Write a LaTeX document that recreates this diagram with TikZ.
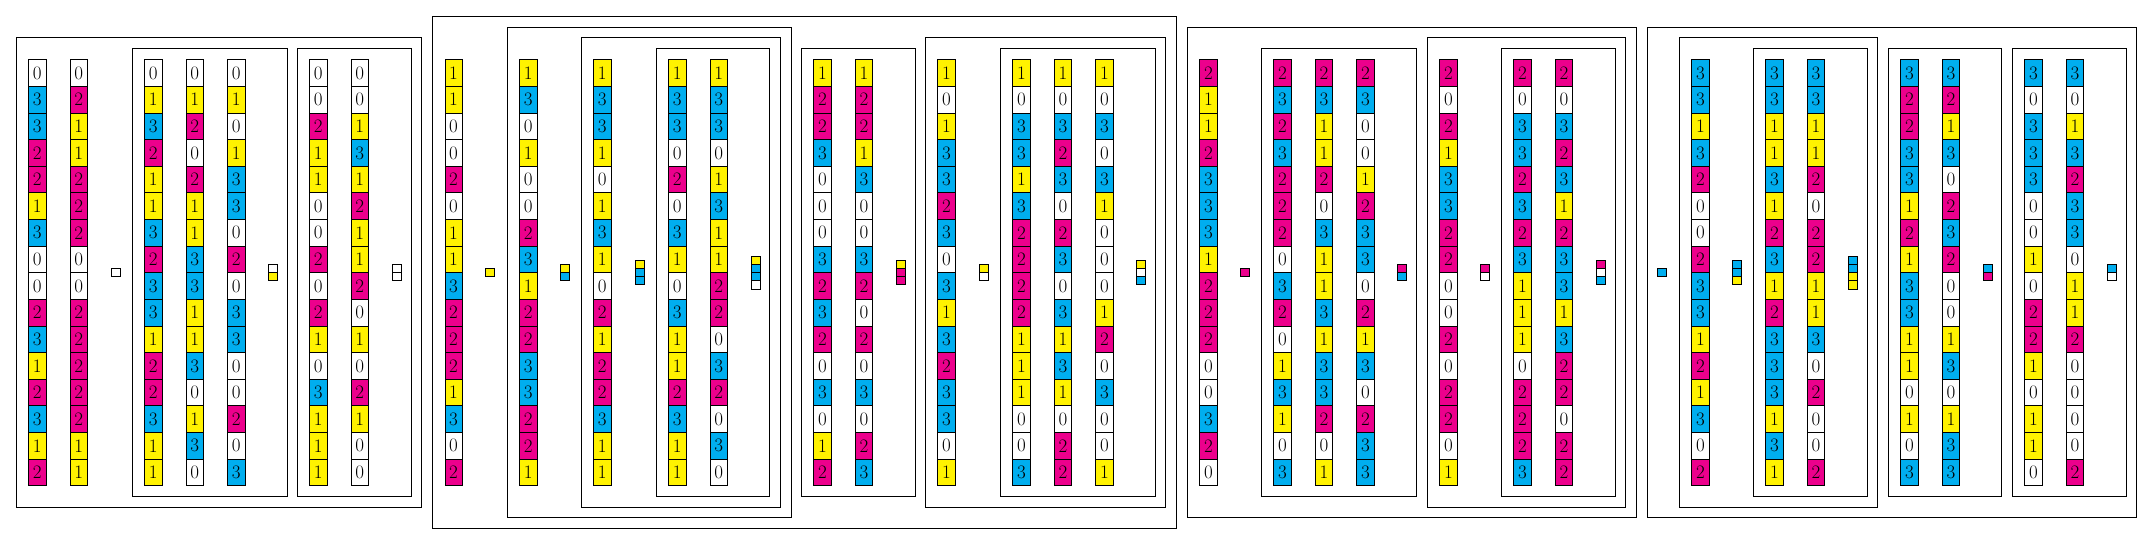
\documentclass[tikz,border=0pt]{standalone}
\definecolor{cy}{RGB}{0,174,239}
\definecolor{mg}{RGB}{236,0,140}
\definecolor{yl}{RGB}{255,242,0}
\tikzset{
  cell/.style={draw, line width=0.8pt, minimum width=17.3pt, minimum height=26.6pt,
    inner sep=0pt, anchor=north west, font=\fontsize{19}{19}\selectfont},
  c0/.style={fill=white}, c1/.style={fill=yl}, c2/.style={fill=mg}, c3/.style={fill=cy},
  keycell/.style={draw, line width=0.8pt, minimum width=8.4pt, minimum height=8.1pt,
    inner sep=0pt, anchor=north west},
  grp/.style={draw, line width=0.9pt},
}
\newcommand\mycol[3]{%
  \foreach \d [count=\i] in {#3} {
    \node[cell, c\d] (#1-\i) at (#2, 59.3+26.625*\i-26.625) {\d};
  }}
\newcommand\mykey[4]{%
  \foreach \d [count=\i] in {#4} {
    \node[keycell, c\d] (#1-\i) at (#2, 272.3-#3*4.05+8.1*\i-8.1) {};
  }}
\begin{document}
\begin{tikzpicture}[x=1pt, y=-1pt]
\useasboundingbox (0,0) rectangle (2152,544);
% ---------- group 0 ----------
\draw[grp] (16.3,37.3) rectangle (421.3,507.3);
\mycol{a}{28.3}{0,3,3,2,2,1,3,0,0,2,3,1,2,3,1,2}
\mycol{b}{69.8}{0,2,1,1,2,2,2,0,0,2,2,2,2,2,1,1}
\mykey{k0}{111.3}{1}{0}
\draw[grp] (132.3,48.3) rectangle (287.3,496);
\mycol{c}{144.3}{0,1,3,2,1,1,3,2,3,3,1,2,2,3,1,1}
\mycol{d}{185.8}{0,1,2,0,2,1,1,3,3,1,1,3,0,1,3,0}
\mycol{e}{227.3}{0,1,0,1,3,3,0,2,0,3,3,0,0,2,0,3}
\mykey{k01}{268.3}{2}{0,1}
\draw[grp] (297.3,48.3) rectangle (411.3,496);
\mycol{f}{309.3}{0,0,2,1,1,0,0,2,0,2,1,0,3,1,1,1}
\mycol{g}{350.8}{0,0,1,3,1,2,1,1,2,0,1,0,2,1,0,0}
\mykey{k00}{392.3}{2}{0,0}
% ---------- group 1 ----------
\draw[grp] (432.3,16) rectangle (1176.3,528.3);
\mycol{h}{444.5}{1,1,0,0,2,0,1,1,3,2,2,2,1,3,0,2}
\mykey{k1}{485.3}{1}{1}
\draw[grp] (507,27.3) rectangle (791.3,517.3);
\mycol{i}{519.3}{1,3,0,1,0,0,2,3,1,2,2,3,3,2,2,1}
\mykey{k13}{560.3}{2}{1,3}
\draw[grp] (581.3,37.3) rectangle (780.3,507.3);
\mycol{j}{593.3}{1,3,3,1,0,1,3,1,0,2,1,2,2,3,1,1}
\mykey{k133}{635.3}{3}{1,3,3}
\draw[grp] (656.3,48.3) rectangle (769.3,496);
\mycol{l}{668.3}{1,3,3,0,2,0,3,1,0,3,1,1,2,3,1,1}
\mycol{m}{709.8}{1,3,3,0,1,3,1,1,2,2,0,3,2,0,3,0}
\mykey{k1330}{751.3}{4}{1,3,3,0}
\draw[grp] (801.3,48.3) rectangle (915.3,496);
\mycol{n}{813.3}{1,2,2,3,0,0,0,3,2,3,2,0,3,0,1,2}
\mycol{o}{854.8}{1,2,2,1,3,0,0,3,2,0,2,0,3,0,2,3}
\mykey{k122}{896.3}{3}{1,2,2}
\draw[grp] (925.3,37.3) rectangle (1165.7,507.3);
\mycol{p}{937.3}{1,0,1,3,3,2,3,0,3,1,3,2,3,3,0,1}
\mykey{k10}{979.3}{2}{1,0}
\draw[grp] (1000.3,48.3) rectangle (1155.3,496);
\mycol{q}{1012.3}{1,0,3,3,1,3,2,2,2,2,1,1,1,0,0,3}
\mycol{r}{1053.8}{1,0,3,2,3,0,2,3,0,3,1,3,1,0,2,2}
\mycol{s}{1095.3}{1,0,3,0,3,1,0,0,0,1,2,0,3,0,0,1}
\mykey{k103}{1136.3}{3}{1,0,3}
% ---------- group 2 ----------
\draw[grp] (1187.3,27.3) rectangle (1636.3,517.3);
\mycol{t}{1199.3}{2,1,1,2,3,3,3,1,2,2,2,0,0,3,2,0}
\mykey{k2}{1240.3}{1}{2}
\draw[grp] (1261.3,48.3) rectangle (1416.3,496);
\mycol{u}{1273.3}{2,3,2,3,2,2,2,0,3,2,0,1,3,1,0,3}
\mycol{v}{1314.8}{2,3,1,1,2,0,3,1,1,3,1,3,3,2,0,1}
\mycol{w}{1356.3}{2,3,0,0,1,2,3,3,0,2,1,3,0,2,3,3}
\mykey{k23}{1397.3}{2}{2,3}
\draw[grp] (1427.3,37.3) rectangle (1625.7,507.3);
\mycol{x}{1439.3}{2,0,2,1,3,3,2,2,0,0,2,0,2,2,0,1}
\mykey{k20}{1480.3}{2}{2,0}
\draw[grp] (1501.3,48.3) rectangle (1615.3,496);
\mycol{y}{1513.3}{2,0,3,3,2,3,2,3,1,1,1,0,2,2,2,3}
\mycol{z}{1554.8}{2,0,3,2,3,1,2,3,3,1,3,2,2,0,2,2}
\mykey{k203}{1596.3}{3}{2,0,3}
% ---------- group 3 ----------
\draw[grp] (1647.3,27.3) rectangle (2136.8,517.3);
\mykey{k3}{1657.3}{1}{3}
\draw[grp] (1679,37.3) rectangle (1877.3,507.3);
\mycol{aa}{1691.3}{3,3,1,3,2,0,0,2,3,3,1,2,1,3,0,2}
\mykey{k331}{1732.3}{3}{3,3,1}
\draw[grp] (1753.3,48.3) rectangle (1867,496);
\mycol{ab}{1765.3}{3,3,1,1,3,1,2,3,1,2,3,3,3,1,3,1}
\mycol{ac}{1806.8}{3,3,1,1,2,0,2,2,1,1,3,0,2,0,0,2}
\mykey{k3311}{1848.3}{4}{3,3,1,1}
\draw[grp] (1888.3,48.3) rectangle (2001.3,496);
\mycol{ad}{1900.3}{3,2,2,3,3,1,2,1,3,3,1,1,0,1,0,3}
\mycol{ae}{1941.8}{3,2,1,3,0,2,3,2,0,0,1,3,0,1,3,3}
\mykey{k32}{1983.3}{2}{3,2}
\draw[grp] (2012.3,48.3) rectangle (2126,496);
\mycol{af}{2024.3}{3,0,3,3,3,0,0,1,0,2,2,1,0,1,1,0}
\mycol{ag}{2065.8}{3,0,1,3,2,3,3,0,1,1,2,0,0,0,0,2}
\mykey{k30}{2107.3}{2}{3,0}
\end{tikzpicture}
\end{document}
